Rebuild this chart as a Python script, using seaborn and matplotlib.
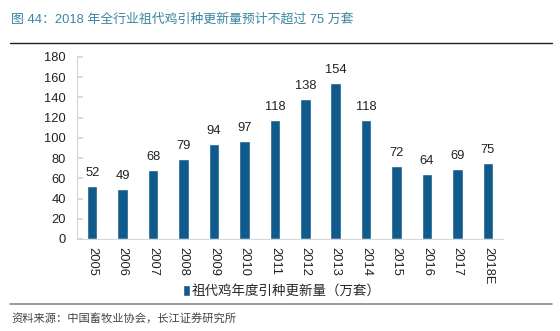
import matplotlib
matplotlib.use("Agg")
import matplotlib.pyplot as plt
import seaborn as sns
import pandas as pd

years = ["2005", "2006", "2007", "2008", "2009", "2010", "2011", "2012", "2013", "2014", "2015", "2016", "2017", "2018E"]
values = [52, 49, 68, 79, 94, 97, 118, 138, 154, 118, 72, 64, 69, 75]
series_name = "祖代鸡年度引种更新量（万套）"
title_text = "图 44：2018 年全行业祖代鸡引种更新量预计不超过 75 万套"
source_text = "资料来源：中国畜牧业协会，长江证券研究所"

sns.set_theme(style="white")
plt.rcParams['font.family'] = ['Liberation Sans', 'Noto Sans CJK SC', 'DejaVu Sans']

df = pd.DataFrame({"year": years, "value": values, "s": series_name})

fig = plt.figure(figsize=(5.6, 3.31), dpi=100)
ax = fig.add_axes([0.1375, 0.278, 0.761, 0.55])
bar_color = "#115a8c"
sns.barplot(data=df, x="year", y="value", hue="s", palette=[bar_color], saturation=1,
            width=0.345, ax=ax, legend=True)

ax.set_ylim(0, 180)
ax.set_yticks(range(0, 181, 20))
ax.set_xlim(-0.5, len(years) - 0.5)
ax.set_xlabel("")
ax.set_ylabel("")
for c in ax.containers:
    ax.bar_label(c, fmt="%d", padding=5, fontsize=9.3, color="#222222")

ax.tick_params(axis="y", labelsize=9.3, colors="#222222", length=4, color="#d6d6d6",
               left=True, direction="in", pad=8)
ax.tick_params(axis="x", labelsize=9.3, colors="#222222", length=0, rotation=270, pad=6)
for sp in ["top", "right"]:
    ax.spines[sp].set_visible(False)
for sp in ["left", "bottom"]:
    ax.spines[sp].set_color("#d6d6d6")
    ax.spines[sp].set_linewidth(0.8)

ax.legend(loc="center", bbox_to_anchor=(0.48, -0.29), frameon=False, fontsize=9.7,
          handlelength=0.55, handleheight=0.8, handletextpad=0.1)

fig.text(0.02, 0.94, title_text, fontsize=9.3, color="#3b86a0", va="center", ha="left")
fig.add_artist(plt.Line2D([0.018, 0.986], [0.87, 0.87], color="#222222", lw=1.0, transform=fig.transFigure))
fig.add_artist(plt.Line2D([0.018, 0.986], [0.082, 0.082], color="#8a8a8a", lw=1.2, transform=fig.transFigure))
fig.text(0.021, 0.036, source_text, fontsize=8.1, color="#444444", va="center", ha="left")

fig.savefig("out.png", dpi=100)
